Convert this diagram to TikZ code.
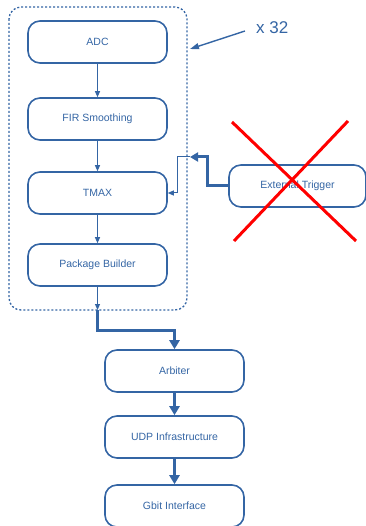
\documentclass[tikz,border=0pt]{standalone}
\usepackage{fontspec}
\setmainfont{Liberation Sans}
\usetikzlibrary{arrows.meta}
\definecolor{bl}{RGB}{52,101,164}
\begin{document}
\begin{tikzpicture}[x=1pt,y=-1pt,
  box/.style={draw=bl,line width=1.6pt,rounded corners=12pt,minimum width=139pt,minimum height=42pt,inner sep=0pt,text=bl,font=\fontsize{10.5}{12}\selectfont},
  thin/.style={draw=bl,line width=1pt,-{Triangle[length=6pt,width=5pt]}},
  thick/.style={draw=bl,line width=3pt,-{Triangle[length=9pt,width=10pt]}}]
\useasboundingbox (0,0) rectangle (365,526);
\draw[bl,line width=1.3pt,dash pattern=on 2pt off 2pt,rounded corners=12pt] (9,7) rectangle (187,310);
\node[box] (adc) at (97.5,42) {ADC};
\node[box] (fir) at (97.5,119) {FIR Smoothing};
\node[box] (tmax) at (97.5,193) {TMAX};
\node[box] (pb) at (97.5,265) {Package Builder};
\node[box] (arb) at (174.5,371) {Arbiter};
\node[box] (udp) at (174.5,437) {UDP Infrastructure};
\node[box] (gbit) at (174.5,506) {Gbit Interface};
\node[box,minimum width=137pt] (et) at (297.5,186) {External Trigger};
\node[text=bl,font=\fontsize{17}{19}\selectfont,anchor=west,inner sep=0pt] (x32) at (256,28) {x 32};
\coordinate (boxedge) at (190,49);
\coordinate (pbout) at (97.5,310);
\coordinate (trg) at (190,157);
\draw[thin] (adc) -- (fir);
\draw[thin] (fir) -- (tmax);
\draw[thin] (tmax) -- (pb);
\draw[thin] (pb) -- (pbout);
\draw[thick] (pbout) -- (97.5,330) -| (arb.north);
\draw[thick] (arb) -- (udp);
\draw[thick] (udp) -- (gbit);
\draw[thick,-{Triangle[length=8pt,width=9pt]}] (et.west) -| (207,157) -- (trg);
\draw[thin] (trg) -- (177.5,157) |- (tmax.east);
\draw[bl,line width=1.4pt,-{Triangle[length=9pt,width=6pt]}] (245,31) -- (boxedge);
\draw[red,line width=3pt] (232,122) -- (356,241);
\draw[red,line width=3pt] (348,121) -- (234,241);
\end{tikzpicture}
\end{document}
